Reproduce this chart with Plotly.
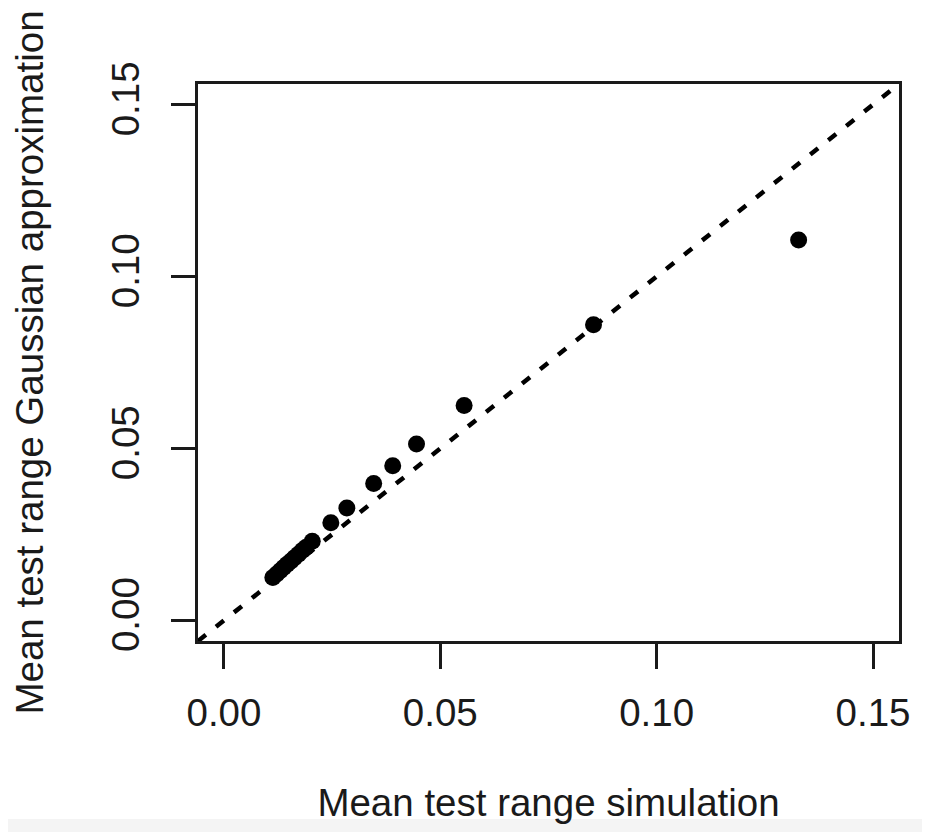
import plotly.graph_objects as go

# Data
sim_mean = [0.0113, 0.0122, 0.0130, 0.0138, 0.0146, 0.0155, 0.0163, 0.0172, 0.0181,
            0.0190, 0.0204, 0.0247, 0.0284, 0.0346, 0.0390, 0.0445, 0.0555, 0.0854, 0.1328]
gauss_mean = [0.0125, 0.0135, 0.0144, 0.0154, 0.0163, 0.0173, 0.0182, 0.0192, 0.0203,
              0.0213, 0.0230, 0.0284, 0.0327, 0.0398, 0.0450, 0.0513, 0.0625, 0.0860, 0.1106]
tick_vals = [0.00, 0.05, 0.10, 0.15]
tick_text = ["0.00", "0.05", "0.10", "0.15"]
axis_range = [-0.006, 0.156]
identity_line = [-0.006, 0.156]

FONT = "Liberation Sans, Arial, Helvetica, sans-serif"
INK = "#1a1a1a"
FS = 38.5

fig = go.Figure()
fig.add_trace(go.Scatter(
    x=identity_line, y=identity_line, mode="lines",
    line=dict(color="black", width=4.5, dash="10px,13px"),
    hoverinfo="skip", showlegend=False,
))
fig.add_trace(go.Scatter(
    x=sim_mean, y=gauss_mean, mode="markers",
    marker=dict(color="black", size=17, line=dict(width=0)),
    showlegend=False,
))

# The page body has a default 8px margin, so the figure is sized to fit the window
fig.update_layout(
    width=914, height=824,
    margin=dict(l=190, r=21, t=76, b=191),
    paper_bgcolor="white", plot_bgcolor="white",
    font=dict(family=FONT, size=FS, color=INK),
    shapes=[dict(type="rect", xref="paper", yref="paper",
                 x0=-0.4, x1=1.1, y0=-0.45, y1=-0.3196,
                 fillcolor="#f4f4f4", line=dict(width=0), layer="below")],
)
fig.update_xaxes(
    range=axis_range, tickvals=tick_vals, ticktext=tick_text,
    showgrid=False, zeroline=False,
    showline=True, linecolor=INK, linewidth=2.5, mirror=True,
    ticks="outside", ticklen=25, tickwidth=2.5, tickcolor=INK,
    ticklabelstandoff=11,
    title=dict(text="Mean test range simulation", standoff=57,
               font=dict(size=FS, family=FONT, color=INK)),
)
fig.update_yaxes(
    range=axis_range, tickvals=tick_vals, ticktext=tick_text,
    showgrid=False, zeroline=False,
    showline=True, linecolor=INK, linewidth=2.5, mirror=True,
    ticks="outside", ticklen=24, tickwidth=2.5, tickcolor=INK,
    tickangle=-90, ticklabelstandoff=17,
    title=dict(text="Mean test range Gaussian approximation", standoff=50,
               font=dict(size=FS, family=FONT, color=INK)),
)

fig.write_html("out.html")
